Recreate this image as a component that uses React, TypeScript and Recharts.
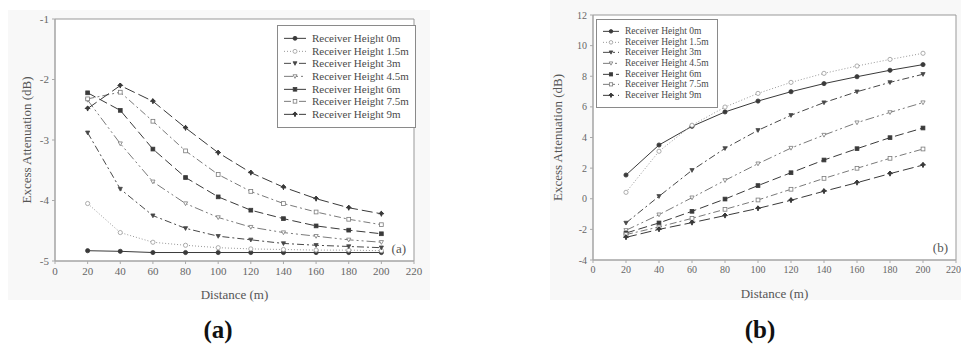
import React from 'react';
import {
  LineChart,
  Line,
  XAxis,
  YAxis,
  Legend,
  ReferenceArea,
} from 'recharts';

// distances (m)
const distances = [20, 40, 60, 80, 100, 120, 140, 160, 180, 200];
const xTicks = [0, 20, 40, 60, 80, 100, 120, 140, 160, 180, 200, 220];

const heightNames = [
  'Receiver Height 0m',
  'Receiver Height 1.5m',
  'Receiver Height 3m',
  'Receiver Height 4.5m',
  'Receiver Height 6m',
  'Receiver Height 7.5m',
  'Receiver Height 9m',
];

// panel (a)
const aTicks = [-5, -4, -3, -2, -1];
const aH0 = [-4.83, -4.84, -4.86, -4.86, -4.86, -4.86, -4.86, -4.86, -4.86, -4.86];
const aH15 = [-4.05, -4.53, -4.69, -4.74, -4.78, -4.8, -4.81, -4.82, -4.82, -4.83];
const aH3 = [-2.88, -3.81, -4.25, -4.46, -4.59, -4.65, -4.71, -4.74, -4.76, -4.78];
const aH45 = [-2.34, -3.06, -3.69, -4.05, -4.28, -4.44, -4.53, -4.59, -4.65, -4.69];
const aH6 = [-2.22, -2.51, -3.15, -3.62, -3.94, -4.16, -4.3, -4.42, -4.49, -4.55];
const aH75 = [-2.32, -2.21, -2.69, -3.18, -3.57, -3.85, -4.05, -4.19, -4.31, -4.4];
const aH9 = [-2.48, -2.1, -2.36, -2.8, -3.21, -3.54, -3.78, -3.97, -4.12, -4.22];

// panel (b)
const bTicks = [-4, -2, 0, 2, 4, 6, 8, 10, 12];
const bH0 = [1.55, 3.51, 4.73, 5.67, 6.38, 6.99, 7.52, 7.97, 8.39, 8.76];
const bH15 = [0.42, 3.1, 4.8, 5.99, 6.88, 7.6, 8.19, 8.67, 9.1, 9.5];
const bH3 = [-1.58, 0.16, 1.86, 3.29, 4.47, 5.45, 6.28, 6.99, 7.6, 8.13];
const bH45 = [-2.06, -1.04, 0.07, 1.2, 2.29, 3.31, 4.16, 4.97, 5.64, 6.28];
const bH6 = [-2.24, -1.58, -0.82, -0.02, 0.86, 1.7, 2.53, 3.27, 3.99, 4.62];
const bH75 = [-2.34, -1.84, -1.28, -0.69, -0.08, 0.62, 1.33, 1.99, 2.64, 3.25];
const bH9 = [-2.52, -2.0, -1.56, -1.1, -0.63, -0.1, 0.49, 1.05, 1.64, 2.2];

const keys = ['h0', 'h15', 'h3', 'h45', 'h6', 'h75', 'h9'];

const buildRows = (series: number[][]) =>
  distances.map((d, i) => {
    const row: Record<string, number> = { d };
    keys.forEach((k, j) => (row[k] = series[j][i]));
    return row;
  });

const dataA = buildRows([aH0, aH15, aH3, aH45, aH6, aH75, aH9]);
const dataB = buildRows([bH0, bH15, bH3, bH45, bH6, bH75, bH9]);

type Style = { dash?: string; shape: string; filled: boolean; color: string };

const styles: Style[] = [
  { shape: 'circle', filled: true, color: '#3a3a3a' },
  { dash: '1 2', shape: 'circle', filled: false, color: '#999' },
  { dash: '7 3 2 3', shape: 'tri', filled: true, color: '#484848' },
  { dash: '9 3 2 3 2 3', shape: 'tri', filled: false, color: '#7a7a7a' },
  { dash: '9 4', shape: 'square', filled: true, color: '#3a3a3a' },
  { dash: '7 3 2 3', shape: 'square', filled: false, color: '#7a7a7a' },
  { dash: '11 4', shape: 'star', filled: true, color: '#3a3a3a' },
];

const FONT = "'Liberation Serif', 'Times New Roman', serif";

const Marker = ({ cx, cy, s, r }: { cx: number; cy: number; s: Style; r: number }) => {
  const fill = s.filled ? s.color : '#fff';
  const common = { fill, stroke: s.color, strokeWidth: 0.8 };
  if (s.shape === 'tri') {
    return (
      <polygon
        points={`${cx - r},${cy - r * 0.8} ${cx + r},${cy - r * 0.8} ${cx},${cy + r}`}
        {...common}
      />
    );
  }
  if (s.shape === 'square') {
    return <rect x={cx - r * 0.9} y={cy - r * 0.9} width={r * 1.8} height={r * 1.8} {...common} />;
  }
  if (s.shape === 'star') {
    return (
      <polygon
        points={`${cx},${cy - r * 1.2} ${cx + r * 0.5},${cy} ${cx},${cy + r * 1.2} ${cx - r * 0.5},${cy} ${cx},${cy - r * 1.2} ${cx + r * 1.2},${cy} ${cx},${cy} ${cx - r * 1.2},${cy}`}
        {...common}
        strokeWidth={1}
      />
    );
  }
  return <circle cx={cx} cy={cy} r={r} {...common} />;
};

const LegendBox = ({ fontSize, rowH, lineW, r, pad }: { fontSize: number; rowH: number; lineW: number; r: number; pad: number[] }) => (
  <div
    style={{
      border: '1px solid #8a8a8a',
      background: '#fff',
      padding: `${pad[0]}px ${pad[1]}px ${pad[2]}px ${pad[3]}px`,
      fontFamily: FONT,
      fontSize,
      color: '#4a4a4a',
      lineHeight: `${rowH}px`,
      whiteSpace: 'nowrap',
    }}
  >
    {heightNames.map((n, i) => (
      <div key={n} style={{ display: 'flex', alignItems: 'center', height: rowH }}>
        <svg width={lineW} height={rowH} style={{ marginRight: 6 }}>
          <line
            x1={0}
            x2={lineW}
            y1={rowH / 2}
            y2={rowH / 2}
            stroke={styles[i].color}
            strokeDasharray={styles[i].dash}
            strokeWidth={1}
          />
          <Marker cx={lineW / 2} cy={rowH / 2} s={styles[i]} r={r} />
        </svg>
        <span>{n}</span>
      </div>
    ))}
  </div>
);

type PanelProps = {
  data: Record<string, number>[];
  left: number;
  width: number;
  margin: { top: number; right: number; bottom: number; left: number };
  yDomain: number[];
  yTicks: number[];
  tag: string;
  tickFont: number;
  yLabelDx: number;
  legendPos: { left: number; top: number };
  legend: React.ReactNode;
};

const Panel = (p: PanelProps) => (
  <div style={{ position: 'absolute', left: p.left, top: 0, fontFamily: FONT }}>
    <LineChart width={p.width} height={305} data={p.data} margin={p.margin} style={{ fontFamily: FONT }}>
      <ReferenceArea
        x1={0}
        x2={220}
        y1={p.yDomain[0]}
        y2={p.yDomain[1]}
        fill="#fff"
        fillOpacity={1}
        stroke="#999"
        strokeWidth={1}
        label={{
          value: p.tag,
          position: 'insideBottomRight',
          offset: 8,
          style: { fontFamily: FONT, fontSize: 13, fill: '#555' },
        }}
      />
      <XAxis
        dataKey="d"
        type="number"
        domain={[0, 220]}
        ticks={xTicks}
        height={30}
        stroke="#aaa"
        tickSize={3}
        tickMargin={3}
        tick={{ fontSize: p.tickFont, fill: '#666', style: { fontFamily: FONT } }}
        label={{
          content: ({ viewBox }: any) => (
            <text
              x={viewBox.x + viewBox.width / 2}
              y={viewBox.y + 38}
              textAnchor="middle"
              style={{ fontFamily: FONT }}
              fontSize={13}
              fill="#555"
            >
              Distance (m)
            </text>
          ),
        }}
      />
      <YAxis
        type="number"
        domain={p.yDomain}
        ticks={p.yTicks}
        width={30}
        stroke="#aaa"
        tickSize={3}
        tickMargin={3}
        tick={{ fontSize: p.tickFont, fill: '#666', style: { fontFamily: FONT } }}
        label={{
          content: ({ viewBox }: any) => {
            const x = viewBox.x + p.yLabelDx;
            const y = viewBox.y + viewBox.height / 2;
            return (
              <text
                x={x}
                y={y}
                transform={`rotate(-90 ${x} ${y})`}
                textAnchor="middle"
                style={{ fontFamily: FONT }}
                fontSize={13}
                fill="#555"
              >
                Excess Attenuation (dB)
              </text>
            );
          },
        }}
      />
      <Legend
        layout="vertical"
        align="center"
        verticalAlign="middle"
        wrapperStyle={{ ...p.legendPos, width: 'auto', height: 'auto' }}
        content={() => p.legend}
      />
      {keys.map((k, i) => (
        <Line
          key={k}
          dataKey={k}
          name={heightNames[i]}
          stroke={styles[i].color}
          strokeDasharray={styles[i].dash}
          strokeWidth={1}
          isAnimationActive={false}
          dot={(d: any) => <Marker key={`${k}-${d.index}`} cx={d.cx} cy={d.cy} s={styles[i]} r={2.1} />}
        />
      ))}
    </LineChart>
  </div>
);

export default function App() {
  return (
    <div
      style={{
        position: 'absolute',
        left: 0,
        top: 0,
        width: 961,
        height: 344,
        background: '#fff',
        overflow: 'hidden',
        fontFamily: FONT,
      }}
    >
      <div style={{ position: 'absolute', left: 8, top: 10, width: 422, height: 290, background: '#f8f8f8' }} />
      <div style={{ position: 'absolute', left: 550, top: 0, width: 411, height: 300, background: '#f8f8f8' }} />
      <Panel
        data={dataA}
        left={0}
        width={440}
        margin={{ top: 19, right: 26, bottom: 14, left: 25 }}
        yDomain={[-5, -1]}
        yTicks={aTicks}
        tag="(a)"
        tickFont={11}
        yLabelDx={6}
        legendPos={{ left: 277, top: 25 }}
        legend={<LegendBox fontSize={11} rowH={12.7} lineW={22} r={2} pad={[6, 6, 6, 6]} />}
      />
      <Panel
        data={dataB}
        left={540}
        width={421}
        margin={{ top: 15, right: 5, bottom: 15, left: 23 }}
        yDomain={[-4, 12]}
        yTicks={bTicks}
        tag="(b)"
        tickFont={10}
        yLabelDx={-1}
        legendPos={{ left: 56, top: 19 }}
        legend={<LegendBox fontSize={9.5} rowH={10.7} lineW={16} r={1.8} pad={[6, 8, 6, 6]} />}
      />
      <div
        style={{
          position: 'absolute',
          left: 218,
          top: 330,
          transform: 'translate(-50%, -50%)',
          fontWeight: 'bold',
          fontSize: 25,
          color: '#111',
        }}
      >
        (a)
      </div>
      <div
        style={{
          position: 'absolute',
          left: 760,
          top: 330,
          transform: 'translate(-50%, -50%)',
          fontWeight: 'bold',
          fontSize: 25,
          color: '#111',
        }}
      >
        (b)
      </div>
    </div>
  );
}
